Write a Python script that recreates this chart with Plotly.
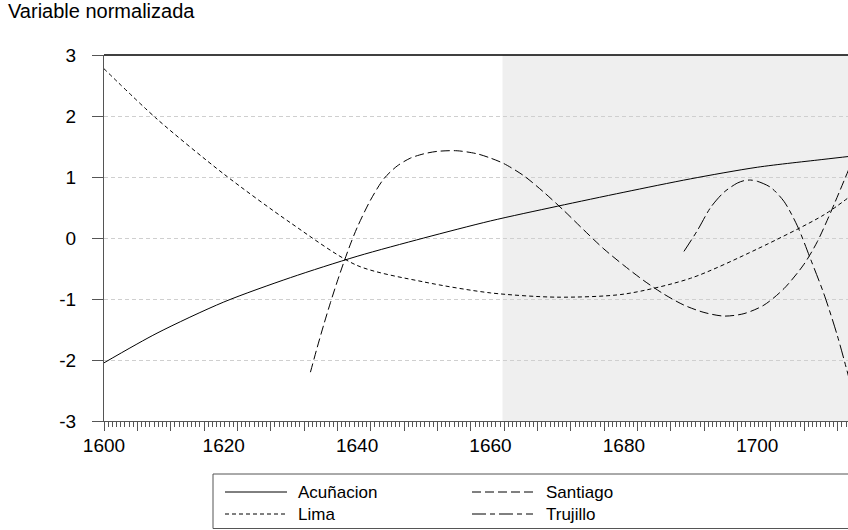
import plotly.graph_objects as go

# ── data ──
acu_years = [1602, 1610, 1620, 1630, 1640, 1650, 1660, 1670, 1680, 1690, 1700, 1710, 1714]
acu_vals = [-2.05, -1.56, -1.05, -0.65, -0.30, 0.00, 0.28, 0.52, 0.75, 0.97, 1.16, 1.29, 1.34]

lima_years = [1602, 1610, 1620, 1630, 1640, 1650, 1660, 1670, 1680, 1690, 1700, 1710, 1714]
lima_vals = [2.78, 1.95, 1.05, 0.25, -0.45, -0.72, -0.90, -0.97, -0.92, -0.66, -0.18, 0.38, 0.69]

sant_years = [1633, 1634, 1635, 1636, 1637, 1638, 1639, 1640, 1642, 1644, 1646, 1648, 1650,
              1652, 1655, 1658, 1660, 1662, 1665, 1668, 1671, 1674, 1677, 1680, 1683, 1686,
              1689, 1692, 1695, 1698, 1701, 1704, 1707, 1709, 1711, 1714]
sant_vals = [-2.20, -1.80, -1.42, -1.06, -0.72, -0.40, -0.10, 0.17, 0.62, 0.97, 1.18, 1.31, 1.38,
             1.42, 1.43, 1.38, 1.31, 1.22, 1.02, 0.75, 0.45, 0.13, -0.18, -0.45, -0.70, -0.92,
             -1.10, -1.22, -1.28, -1.24, -1.10, -0.83, -0.43, -0.06, 0.42, 1.20]

truj_years = [1689, 1691, 1693, 1695, 1697, 1698, 1699, 1700, 1702, 1704, 1706, 1708, 1710, 1712, 1714]
truj_vals = [-0.22, 0.12, 0.50, 0.75, 0.90, 0.94, 0.95, 0.93, 0.83, 0.60, 0.20, -0.35, -0.92, -1.60, -2.40]

y_ticks = [-3, -2, -1, 0, 1, 2, 3]
y_tick_txt = ["-3", "-2", "-1", "0", "1", "2", "3"]
x_label_pos = [1602.05, 1620, 1640, 1660, 1680, 1700]
x_label_txt = ["1600", "1620", "1640", "1660", "1680", "1700"]

X_MIN, X_MAX = 1602.05, 1713.6
SHADE_START = 1661.8

FONT = "Arial, Liberation Sans, sans-serif"
AXIS_GRAY = "#555555"

series = [
    ("Acuñacion", acu_years, acu_vals, "solid"),
    ("Lima", lima_years, lima_vals, "4px,3px"),
    ("Santiago", sant_years, sant_vals, "9px,4px"),
    ("Trujillo", truj_years, truj_vals, "14px,4px,5px,4px"),
]

fig = go.Figure()
for name, xs, ys, dash in series:
    fig.add_trace(go.Scatter(
        x=xs, y=ys, mode="lines", name=name,
        line=dict(color="black", width=1, dash=dash, shape="spline", smoothing=0.8),
        showlegend=False,
    ))

# invisible trace so the overlay axis (long tick marks) gets drawn
fig.add_trace(go.Scatter(x=[X_MIN, X_MAX], y=[-10, -10], xaxis="x2", mode="lines",
                         line=dict(width=0), showlegend=False, hoverinfo="skip"))

# shaded period
fig.add_vrect(x0=SHADE_START, x1=X_MAX, fillcolor="#efefef", line_width=0, layer="below")

# top frame line
fig.add_shape(type="line", xref="paper", yref="paper", x0=0, x1=1, y0=1, y1=1,
              line=dict(color="black", width=1.5))

# ── hand-drawn legend (bottom) ──
PLOT_L, PLOT_W, PLOT_B, PLOT_H = 104, 744, 421, 366
def px(p):
    return (p - PLOT_L) / PLOT_W
def py(p):
    return (PLOT_B - p) / PLOT_H

fig.add_shape(type="rect", xref="paper", yref="paper",
              x0=px(213), x1=px(870), y0=py(474), y1=py(528.5),
              line=dict(color=AXIS_GRAY, width=1))
legend_slots = [(225, 287, 296, 492), (225, 287, 296, 514), (472, 533, 544, 492), (472, 533, 544, 514)]
for (name, _, _, dash), (lx0, lx1, tx, ly) in zip(series, legend_slots):
    fig.add_shape(type="line", xref="paper", yref="paper",
                  x0=px(lx0), x1=px(lx1), y0=py(ly), y1=py(ly),
                  line=dict(color="black", width=1, dash=dash))
    fig.add_annotation(x=px(tx), y=py(ly), xref="paper", yref="paper", text=name,
                       showarrow=False, xanchor="left", yanchor="middle",
                       font=dict(family=FONT, size=17, color="black"))

fig.update_layout(
    width=848, height=530,
    margin=dict(l=PLOT_L, r=0, t=55, b=530 - PLOT_B),
    paper_bgcolor="white", plot_bgcolor="white",
    font=dict(family=FONT, size=19, color="black"),
    title=dict(text="Variable normalizada", x=8 / 848, xanchor="left", xref="container",
               y=1 - 4 / 530, yanchor="top", yref="container",
               font=dict(family=FONT, size=20, color="black")),
    xaxis=dict(
        range=[X_MIN, X_MAX], showgrid=False, zeroline=False,
        showline=True, linecolor=AXIS_GRAY, linewidth=1,
        tickmode="array", tickvals=x_label_pos, ticktext=x_label_txt,
        ticks="", ticklabelstandoff=7, tickfont=dict(size=19),
        minor=dict(ticks="outside", tick0=X_MIN, dtick=0.625, ticklen=5,
                   tickcolor=AXIS_GRAY, tickwidth=1, showgrid=False),
    ),
    xaxis2=dict(
        range=[X_MIN, X_MAX], overlaying="x", anchor="y", side="bottom",
        showgrid=False, zeroline=False, showline=False, showticklabels=False,
        tickmode="linear", tick0=X_MIN, dtick=5,
        ticks="outside", ticklen=9, tickcolor=AXIS_GRAY, tickwidth=1,
    ),
    yaxis=dict(
        range=[-3, 3], tickmode="array", tickvals=y_ticks, ticktext=y_tick_txt,
        showline=True, linecolor=AXIS_GRAY, linewidth=1, zeroline=False,
        ticks="outside", ticklen=11, tickcolor=AXIS_GRAY, tickwidth=1,
        ticklabelstandoff=12, tickfont=dict(size=19),
        showgrid=True, gridcolor="#cfcfcf", gridwidth=1, griddash="4px,3px",
    ),
)

# the page's default body margin would shift the figure by 8px
fig.write_html("out.html", config={"displayModeBar": False},
               post_script="document.body.style.margin='0px';")
